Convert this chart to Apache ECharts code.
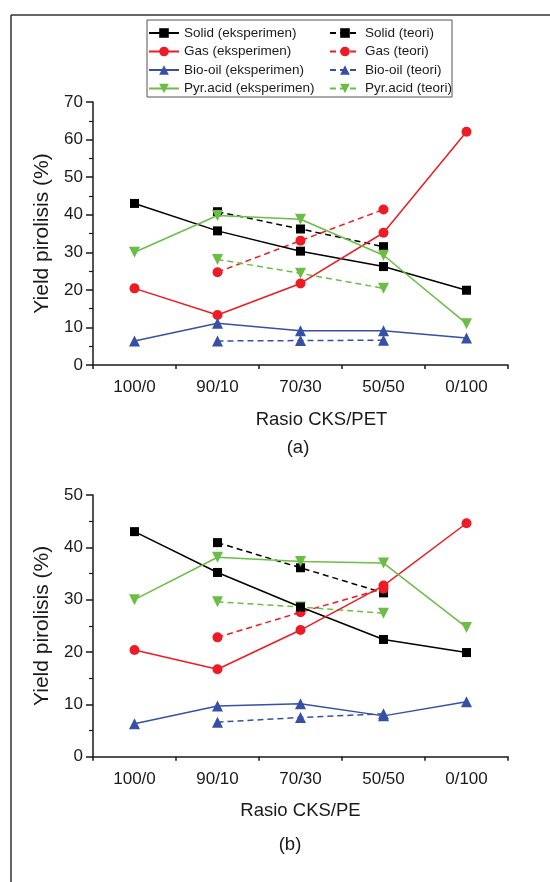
<!DOCTYPE html>
<html>
<head>
<meta charset="utf-8">
<script src="https://cdn.jsdelivr.net/npm/echarts@6/dist/echarts.min.js"></script>
<style>
  html, body { margin: 0; padding: 0; background: #fff; }
  #chart { width: 550px; height: 882px; }
</style>
</head>
<body>
<div id="chart"></div>
<script>
const categories = ['100/0', '90/10', '70/30', '50/50', '0/100'];

// (a) Rasio CKS/PET
const solidExpA = [43.0, 35.7, 30.3, 26.2, 19.9];
const solidTeoA = [null, 40.8, 36.2, 31.5, null];
const gasExpA = [20.4, 13.3, 21.7, 35.2, 62.1];
const gasTeoA = [null, 24.7, 33.1, 41.4, null];
const bioExpA = [6.4, 11.1, 9.1, 9.1, 7.2];
const bioTeoA = [null, 6.4, 6.5, 6.6, null];
const pyrExpA = [30.0, 39.8, 38.8, 29.2, 11.0];
const pyrTeoA = [null, 28.1, 24.4, 20.4, null];

// (b) Rasio CKS/PE
const solidExpB = [43.0, 35.2, 28.6, 22.4, 19.9];
const solidTeoB = [null, 40.9, 36.1, 31.3, null];
const gasExpB = [20.4, 16.7, 24.2, 32.7, 44.6];
const gasTeoB = [null, 22.8, 27.6, 32.1, null];
const bioExpB = [6.3, 9.7, 10.1, 7.8, 10.5];
const bioTeoB = [null, 6.6, 7.5, 8.2, null];
const pyrExpB = [30.0, 38.1, 37.3, 37.0, 24.7];
const pyrTeoB = [null, 29.6, 28.6, 27.4, null];

const FONT = '"Liberation Sans", Arial, sans-serif';
const INK = '#1a1a1a';

const kinds = [
    { key: 'Solid', color: '#000000', symbol: 'rect', size: 9, rotate: 0 },
    { key: 'Gas', color: '#ed1c24', symbol: 'circle', size: 10, rotate: 0 },
    { key: 'Bio-oil', color: '#3650a5', symbol: 'triangle', size: 11, rotate: 0 },
    { key: 'Pyr.acid', color: '#6cbd45', symbol: 'triangle', size: 11, rotate: 180 },
];

const dataA = [[solidExpA, solidTeoA], [gasExpA, gasTeoA], [bioExpA, bioTeoA], [pyrExpA, pyrTeoA]];
const dataB = [[solidExpB, solidTeoB], [gasExpB, gasTeoB], [bioExpB, bioTeoB], [pyrExpB, pyrTeoB]];

function makeSeries(sets, xIdx, yIdx) {
    const out = [];
    kinds.forEach((k, i) => {
        ['eksperimen', 'teori'].forEach((t, j) => {
            out.push({
                name: k.key + ' (' + t + ')',
                type: 'line',
                xAxisIndex: xIdx,
                yAxisIndex: yIdx,
                data: sets[i][j],
                symbol: k.symbol,
                symbolSize: k.size,
                symbolRotate: k.rotate,
                connectNulls: false,
                lineStyle: { color: k.color, width: 1.5, type: j === 1 ? [6, 4] : 'solid' },
                itemStyle: { color: k.color },
                z: j === 1 ? 2 : 3,
                animation: false,
            });
        });
    });
    return out;
}

function catAxis(gridIndex, name, padLeft) {
    return {
        type: 'category',
        gridIndex: gridIndex,
        position: 'bottom',
        data: categories,
        boundaryGap: true,
        axisLine: { onZero: false, lineStyle: { color: INK, width: 1.5 } },
        axisTick: { alignWithLabel: true, length: 7, lineStyle: { color: INK, width: 1.5 } },
        axisLabel: { color: INK, fontSize: 17, fontFamily: FONT, margin: 14 },
        name: name,
        nameLocation: 'middle',
        nameGap: 45,
        nameTextStyle: { color: INK, fontSize: 18.5, fontFamily: FONT, padding: [0, 0, 0, padLeft] },
    };
}

// second x axis in each grid, only to draw the short ticks between categories
function boundaryAxis(gridIndex) {
    return {
        type: 'value',
        gridIndex: gridIndex,
        position: 'bottom',
        min: -0.5,
        max: 4.5,
        interval: 1,
        axisLine: { show: false, onZero: false },
        axisTick: { show: true, length: 4, lineStyle: { color: INK, width: 1.5 } },
        axisLabel: { show: false },
        splitLine: { show: false },
    };
}

function valAxis(gridIndex, max) {
    return {
        type: 'value',
        gridIndex: gridIndex,
        min: 0,
        max: max,
        interval: 10,
        axisLine: { show: true, onZero: false, lineStyle: { color: INK, width: 1.5 } },
        axisTick: { show: true, length: 7, lineStyle: { color: INK, width: 1.5 } },
        minorTick: { show: true, splitNumber: 2, length: 4, lineStyle: { color: INK, width: 1.2 } },
        axisLabel: { color: INK, fontSize: 17, fontFamily: FONT, margin: 10 },
        splitLine: { show: false },
        name: 'Yield pirolisis (%)',
        nameLocation: 'middle',
        nameGap: 31,
        nameTextStyle: { color: INK, fontSize: 21, fontFamily: FONT },
    };
}

function legend(left, names) {
    return {
        orient: 'vertical',
        left: left,
        top: 26,
        padding: 0,
        itemWidth: 30,
        itemHeight: 12,
        itemGap: 4.5,
        data: names,
        textStyle: { color: INK, fontSize: 13.5, fontFamily: FONT },
    };
}

const chart = echarts.init(document.getElementById('chart'));
chart.setOption({
    backgroundColor: '#ffffff',
    animation: false,
    legend: [
        legend(148, kinds.map(k => k.key + ' (eksperimen)')),
        legend(329, kinds.map(k => k.key + ' (teori)')),
    ],
    grid: [
        { left: 93, right: 42, top: 102, height: 263 },
        { left: 93, right: 42, top: 495, height: 261.7 },
    ],
    xAxis: [
        catAxis(0, 'Rasio CKS/PET', 42),
        boundaryAxis(0),
        catAxis(1, 'Rasio CKS/PE', 0),
        boundaryAxis(1),
    ],
    yAxis: [valAxis(0, 70), valAxis(1, 50)],
    series: makeSeries(dataA, 0, 0).concat(makeSeries(dataB, 2, 1)),
    graphic: [
        { type: 'line', shape: { x1: 11, y1: 15, x2: 550, y2: 15 }, style: { stroke: '#333', lineWidth: 1.5 } },
        { type: 'line', shape: { x1: 11, y1: 15, x2: 11, y2: 882 }, style: { stroke: '#333', lineWidth: 1.5 } },
        { type: 'rect', shape: { x: 147, y: 20, width: 305, height: 77 }, style: { fill: 'none', stroke: '#555', lineWidth: 1 }, z: 10 },
        { type: 'text', x: 298, y: 448, style: { text: '(a)', fill: INK, fontSize: 18.5, fontFamily: FONT, textAlign: 'center', textVerticalAlign: 'middle' } },
        { type: 'text', x: 290, y: 845, style: { text: '(b)', fill: INK, fontSize: 18.5, fontFamily: FONT, textAlign: 'center', textVerticalAlign: 'middle' } },
    ],
});
</script>
</body>
</html>
